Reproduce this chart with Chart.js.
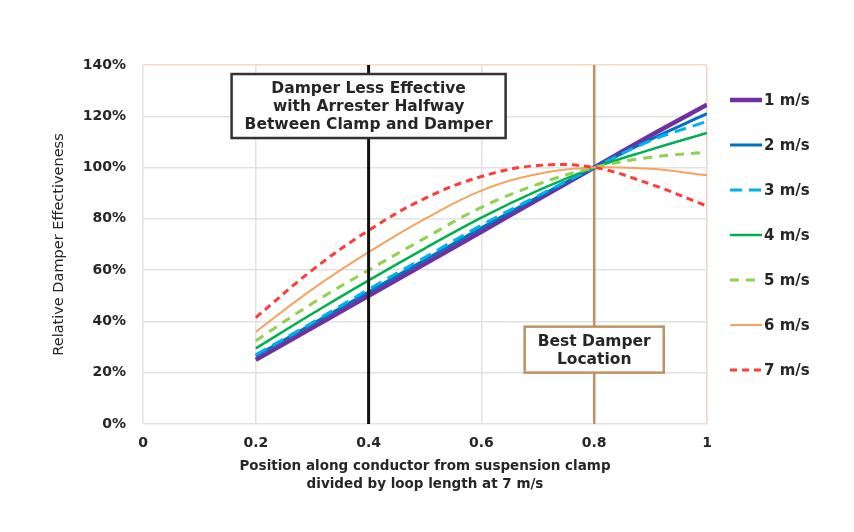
<!DOCTYPE html>
<html>
<head>
<meta charset="utf-8">
<script src="https://cdn.jsdelivr.net/npm/chart.js@4.4.0/dist/chart.umd.min.js"></script>
<style>
html, body { margin: 0; padding: 0; background: #fff; }
#chart { display: block; }
</style>
</head>
<body>
<canvas id="chart" width="854" height="532"></canvas>
<script>
// positions along the loop (x) and effectiveness in % for each wind speed
var positions = [0.2, 0.3, 0.4, 0.5, 0.6, 0.7, 0.8, 0.9, 1.0];
var speeds = ['1 m/s', '2 m/s', '3 m/s', '4 m/s', '5 m/s', '6 m/s', '7 m/s'];
var speed1 = [25, 37.5, 50, 62.5, 75, 87.5, 100, 112.5, 124.5];
var speed2 = [26.5, 39, 51.5, 64, 76.5, 88.5, 100, 111, 121];
var speed3 = [27, 39.5, 52.5, 65, 77.5, 89, 100, 110.5, 118];
var speed4 = [29.5, 43, 56, 68.5, 80.5, 91, 100, 107, 113.5];
var speed5 = [32.5, 47, 60, 72.5, 84.5, 93.5, 100, 104, 106];
var speed6 = [36, 52.5, 67, 80, 91, 97.5, 100, 99.5, 97];
var speed7 = [41.5, 60, 75.5, 88, 96.5, 100.8, 100, 93.5, 85];
var xTickLabels = ['0', '0.2', '0.4', '0.6', '0.8', '1'];
var yTickLabels = ['0%', '20%', '40%', '60%', '80%', '100%', '120%', '140%'];

var series = [speed1, speed2, speed3, speed4, speed5, speed6, speed7];
var colors = ['#7030a0', '#0070c0', '#00b0f0', '#00b050', '#92d050', '#f4a460', '#ff3b3b'];
var widths = [4.5, 3, 3, 2.5, 3, 2, 3];
var dashes = [[], [], [12, 7], [], [9, 7], [], [7, 5]];

var font = "'DejaVu Sans', sans-serif";
var textColor = '#262626';

// vertical reference lines and their labels
var markers = [
    { x: 0.4, color: '#111111', width: 3, onTop: true },
    { x: 0.8, color: '#be9165', width: 2.5, onTop: false }
];
var boxes = [
    { x: 0.4, y: 124, border: '#333333', lines: ['Damper Less Effective', 'with Arrester Halfway', 'Between Clamp and Damper'] },
    { x: 0.8, y: 29, border: '#be9165', lines: ['Best Damper', 'Location'] }
];

function drawMarker(chart, m) {
    var ctx = chart.ctx, area = chart.chartArea;
    var px = chart.scales.x.getPixelForValue(m.x);
    ctx.save();
    ctx.strokeStyle = m.color;
    ctx.lineWidth = m.width;
    ctx.beginPath();
    ctx.moveTo(px, area.top);
    ctx.lineTo(px, area.bottom);
    ctx.stroke();
    ctx.restore();
}

function drawBox(chart, b) {
    var ctx = chart.ctx;
    var cx = chart.scales.x.getPixelForValue(b.x);
    var cy = chart.scales.y.getPixelForValue(b.y);
    var lineH = 18;
    ctx.save();
    ctx.font = 'bold 15.5px ' + font;
    var w = 0;
    b.lines.forEach(function(t) { w = Math.max(w, ctx.measureText(t).width); });
    var bw = w + 26, bh = b.lines.length * lineH + 10;
    ctx.fillStyle = '#fff';
    ctx.fillRect(cx - bw / 2, cy - bh / 2, bw, bh);
    ctx.strokeStyle = b.border;
    ctx.lineWidth = 2.5;
    ctx.strokeRect(cx - bw / 2, cy - bh / 2, bw, bh);
    ctx.fillStyle = textColor;
    ctx.textAlign = 'center';
    ctx.textBaseline = 'middle';
    b.lines.forEach(function(t, i) {
        ctx.fillText(t, cx, cy - bh / 2 + 5 + lineH * (i + 0.5) + 1);
    });
    ctx.restore();
}

function drawLegend(chart) {
    var ctx = chart.ctx, area = chart.chartArea;
    var x0 = area.right + 23, y0 = area.top + 35;
    ctx.save();
    ctx.font = 'bold 15px ' + font;
    ctx.textBaseline = 'middle';
    chart.data.datasets.forEach(function(ds, i) {
        var y = y0 + i * 45;
        ctx.strokeStyle = ds.borderColor;
        ctx.lineWidth = ds.borderWidth;
        ctx.setLineDash(ds.borderDash);
        ctx.beginPath();
        ctx.moveTo(x0, y);
        ctx.lineTo(x0 + 32, y);
        ctx.stroke();
        ctx.setLineDash([]);
        ctx.fillStyle = textColor;
        ctx.fillText(ds.label, x0 + 34, y + 1);
    });
    ctx.restore();
}

var annotate = {
    id: 'annotate',
    beforeDatasetsDraw: function(chart) {
        markers.forEach(function(m) { if (!m.onTop) drawMarker(chart, m); });
    },
    afterDatasetsDraw: function(chart) {
        markers.forEach(function(m) { if (m.onTop) drawMarker(chart, m); });
        boxes.forEach(function(b) { drawBox(chart, b); });
        drawLegend(chart);
    }
};

function InitChart() {
    var datasets = series.map(function(vals, i) {
        return {
            label: speeds[i],
            data: positions.map(function(p, j) { return { x: p, y: vals[j] }; }),
            borderColor: colors[i],
            backgroundColor: colors[i],
            borderWidth: widths[i],
            borderDash: dashes[i],
            pointRadius: 0,
            tension: 0.4,
            fill: false,
            order: 7 - i
        };
    });

    new Chart(document.getElementById('chart'), {
        type: 'line',
        data: { datasets: datasets },
        plugins: [annotate],
        options: {
            responsive: false,
            animation: false,
            layout: { padding: { top: 65, right: 147, left: 0, bottom: 0 } },
            plugins: { legend: { display: false }, tooltip: { enabled: false } },
            scales: {
                x: {
                    type: 'linear',
                    min: 0, max: 1,
                    ticks: {
                        stepSize: 0.2,
                        padding: 11,
                        color: textColor,
                        font: { family: font, size: 14, weight: 'bold' },
                        callback: function(v, i) { return xTickLabels[i]; }
                    },
                    grid: {
                        drawTicks: false,
                        lineWidth: 1.5,
                        color: function(c) { return c.index === 5 ? '#ecd5c3' : '#e2e2e2'; }
                    },
                    border: { display: false },
                    title: {
                        display: true,
                        text: ['Position along conductor from suspension clamp', 'divided by loop length at 7 m/s'],
                        color: textColor,
                        font: { family: font, size: 13.5, weight: 'bold', lineHeight: 1.35 },
                        padding: { top: 0, bottom: 38 }
                    },
                    afterFit: function(s) { s.height = 108; }
                },
                y: {
                    min: 0, max: 140,
                    ticks: {
                        stepSize: 20,
                        padding: 17,
                        color: textColor,
                        font: { family: font, size: 14, weight: 'bold' },
                        callback: function(v, i) { return yTickLabels[i]; }
                    },
                    grid: {
                        drawTicks: false,
                        lineWidth: 1.5,
                        color: function(c) { return c.index === 7 ? '#f3d9c6' : '#e2e2e2'; }
                    },
                    border: { display: false },
                    title: {
                        display: true,
                        text: 'Relative Damper Effectiveness',
                        color: textColor,
                        font: { family: font, size: 14.5, weight: 'normal', lineHeight: 1.2 },
                        padding: { top: 51, bottom: 0 }
                    },
                    afterFit: function(s) { s.width = 143; }
                }
            }
        }
    });
}

InitChart();
</script>
</body>
</html>
